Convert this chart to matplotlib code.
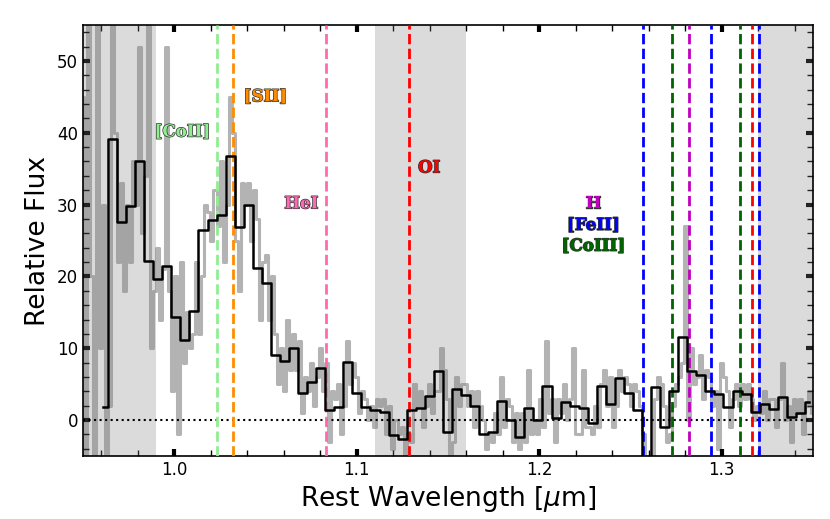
import numpy as np
import matplotlib.pyplot as plt
import matplotlib.patheffects as pe
from matplotlib.ticker import MultipleLocator

# binned spectrum (black steps), bin centres start at 0.9612 um
bin_start = 0.9612
bin_width = 0.00496
binned_flux = [1.8, 39.1, 27.6, 29.8, 36.1, 22.1, 19.7, 21.4, 14.4, 11.2,
               15.2, 26.4, 27.8, 28.5, 36.7, 26.9, 29.9, 21.2, 19.1, 9.0,
               8.2, 10.0, 3.75, 5.3, 7.2, 1.4, 1.76, 8.1, 3.75, 1.76,
               1.4, 1.15, -2.1, -2.6, 1.4, 1.7, 3.3, 6.9, -1.7, 4.3,
               3.5, 1.9, -1.95, -1.6, 2.7, 0.05, -2.3, 1.7, 0.0, 4.7,
               0.3, 2.45, 2.0, 1.7, -0.4, 4.7, 2.2, 5.8, 3.8, 1.4,
               -8.0, 4.6, -0.9, 4.1, 11.5, 6.9, 6.25, 4.1, 3.6, 1.85,
               4.0, 3.7, 1.1, 2.2, 1.6, 3.2, 0.46, 0.97, 2.45]

# full resolution spectrum (grey), 3 samples per bin plus 7 before the first bin
fine_start = 0.9496
fine_step = 0.001653
fine_flux = [45, -6, 60, 20, -8, 60, 10,
             30, -6, 2,   58, 40, 22,  33, 18, 30,  22, 36, 30,  52, 26, 34,
             57, 10, 18,  24, 14, 21,  52, 18, 4,   20, -2, 22,  8, 15, 10,
             12, 22, 12,  20, 30, 29,  25, 32, 27,  36, 22, 30,  45, 40, 25,
             18, 33, 30,  33, 25, 32,  28, 14, 22,  23, 14, 20,  12, 5, 10,
             4, 14, 7,    12, 7, 11,   1, 6, 4,     8, 2, 6,     10, 4, 8,
             -3, 4, 3,    5, -2, 2,    11, 5, 8,    6, 1, 4,     3, 0, 2,
             -1, 3, 2,    3, -2, 2,    -4, 0, -2,   -1, -5, -2,  -3, 5, 2,
             4, -1, 2,    5, 1, 4,     4, 10, 7,    3, -5, -3,   6, 2, 5,
             5, 2, 4,     -1, 4, 2,    0, -4, -2,   -3, 1, -2,   6, -1, 3,
             2, -3, 1,    -4, 1, -3,   7, -2, 0,    -2, 3, -1,   11, 1, 3,
             -3, 3, 1,    5, 0, 3,     10, -2, -2,  7, -1, -1,   -2, 2, -1,
             5, 7, 2,     6, -1, 2,    7, 4, 6,     5, 2, 5,     4, 2, -2,
             -5, -12, -7, 3, 6, 5,     2, -3, -2,   2, 5, 6,     8, 27, 0,
             10, 5, 6,    9, 3, 7,     6, 2, 4,     -4, 8, 6,    4, -1, 3,
             5, 2, 5,     3, 5, 3,     0, 2, 1,     4, 0, 3,     3, -1, 3,
             8, 0, 2,     -3, 3, 1,    3, -2, 2,    4, 1, 2]

# masked (telluric) regions
shade_regions = [(0.94, 0.99), (1.11, 1.16), (1.32, 1.36)]

# line identifications
line_waves = [1.0235, 1.0320, 1.0830, 1.1287, 1.2567, 1.2728, 1.2818,
              1.2943, 1.3099, 1.3165, 1.3206]
line_colors = ['lightgreen', 'darkorange', 'hotpink', 'red', 'blue', 'darkgreen',
               'm', 'blue', 'darkgreen', 'red', 'blue']

label_text = ['[CoII]', '[SII]', 'HeI', 'OI', 'H', '[FeII]', '[CoIII]']
label_x = [1.0044, 1.0499, 1.0696, 1.1397, 1.2296, 1.2296, 1.2296]
label_y = [40.1, 45.0, 30.1, 35.1, 30.1, 27.1, 24.2]
label_colors = ['lightgreen', 'darkorange', 'hotpink', 'red', 'm', 'blue', 'darkgreen']

fine_wave = fine_start + fine_step * np.arange(len(fine_flux))
bin_wave = bin_start + bin_width * np.arange(len(binned_flux))

fig = plt.figure(figsize=(8.3, 5.19), dpi=100)
ax = fig.add_axes([0.1, 0.1214, 0.8795, 0.8304])

ax.plot(fine_wave, fine_flux, drawstyle='steps-mid', color='0.7', lw=2.2, zorder=1)
for lo, hi in shade_regions:
    ax.axvspan(lo, hi, color='gray', alpha=0.28, lw=0, zorder=2)
ax.axhline(0, color='k', ls=':', lw=1.5, zorder=2)
for w, c in zip(line_waves, line_colors):
    ax.axvline(w, color=c, ls='--', lw=2, zorder=3)
ax.plot(bin_wave, binned_flux, drawstyle='steps-mid', color='k', lw=1.8, zorder=4)

for t, x, y, c in zip(label_text, label_x, label_y, label_colors):
    ax.text(x, y, t, color=c, ha='center', va='center', fontsize=12,
            family='DejaVu Serif', weight='bold', zorder=5,
            path_effects=[pe.Stroke(linewidth=1.0, foreground='0.2'), pe.Normal()])

ax.set_xlim(0.95, 1.35)
ax.set_ylim(-5, 55)
ax.xaxis.set_major_locator(MultipleLocator(0.1))
ax.xaxis.set_minor_locator(MultipleLocator(0.02))
ax.yaxis.set_major_locator(MultipleLocator(10))
ax.yaxis.set_minor_locator(MultipleLocator(2))
ax.tick_params(which='both', direction='in', top=True, right=True, labelsize=12)
ax.tick_params(which='major', length=5, width=3)
ax.tick_params(which='minor', length=4, width=1)
for s in ax.spines.values():
    s.set_linewidth(1.2)

ax.set_xlabel(r'Rest Wavelength [$\mu$m]', fontsize=19)
ax.set_ylabel('Relative Flux', fontsize=19)

fig.savefig('out.png', dpi=100)
